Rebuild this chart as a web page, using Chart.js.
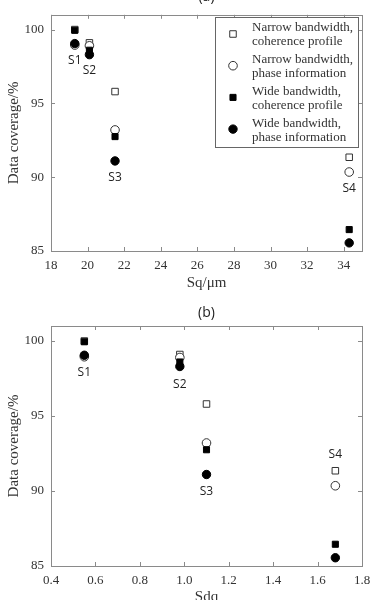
<!DOCTYPE html>
<html>
<head>
<meta charset="utf-8">
<script src="https://cdn.jsdelivr.net/npm/chart.js@4"></script>
<style>
  html, body { margin: 0; padding: 0; background: #fff; }
  body { width: 390px; height: 600px; position: relative; overflow: hidden; }
  .box { position: absolute; left: 0; width: 390px; height: 300px; }
</style>
</head>
<body>
<div class="box" style="top:0"><canvas id="chart-a"></canvas></div>
<div class="box" style="top:300px"><canvas id="chart-b"></canvas></div>
<script>
// ─── DADOS ───────────────────────────────────────────────
const samples = ['S1', 'S2', 'S3', 'S4'];
const sqValues = [19.3, 20.1, 21.5, 34.3];
const sdqValues = [0.55, 0.98, 1.1, 1.68];

const narrowCoherence = [100.0, 99.1, 95.8, 91.35];
const narrowPhase = [98.95, 98.9, 93.2, 90.35];
const wideCoherence = [99.95, 98.6, 92.75, 86.45];
const widePhase = [99.05, 98.3, 91.1, 85.55];

const seriesNames = [
  ['Narrow bandwidth,', 'coherence profile'],
  ['Narrow bandwidth,', 'phase information'],
  ['Wide bandwidth,', 'coherence profile'],
  ['Wide bandwidth,', 'phase information']
];

// label positions (data units) for S1..S4
const labelYa = [97.9, 97.2, 90.0, 89.2];
const labelYb = [97.9, 97.1, 89.95, 92.45];

const yTicks = [85, 90, 95, 100];
const xTicksA = [18, 20, 22, 24, 26, 28, 30, 32, 34];
const xTicksB = [0.4, 0.6, 0.8, 1, 1.2, 1.4, 1.6, 1.8];

// ─── ESTILO ──────────────────────────────────────────────
const SERIF = '"Liberation Serif", "DejaVu Serif", serif';
const SANS = '"Open Sans", "Liberation Sans", sans-serif';
const FRAME = '#8a8a8a';

const markerStyles = [
  { pointStyle: 'rect', pointRadius: 4.6, backgroundColor: '#fff', borderColor: '#333', order: 4 },
  { pointStyle: 'circle', pointRadius: 4.3, backgroundColor: '#fff', borderColor: '#333', order: 3 },
  { pointStyle: 'rect', pointRadius: 4.3, backgroundColor: '#000', borderColor: '#000', order: 2 },
  { pointStyle: 'circle', pointRadius: 4.2, backgroundColor: '#000', borderColor: '#000', order: 1 }
];

function buildDatasets(xs) {
  return [narrowCoherence, narrowPhase, wideCoherence, widePhase].map((ys, i) => ({
    label: seriesNames[i].join(' '),
    data: xs.map((x, j) => ({ x, y: ys[j] })),
    pointBorderWidth: 1,
    pointHoverRadius: markerStyles[i].pointRadius,
    ...markerStyles[i]
  }));
}

// frame + inward ticks + texts
const decoPlugin = {
  id: 'deco',
  afterDraw(chart) {
    const o = chart.options.plugins.deco;
    const { ctx, chartArea: a, scales } = chart;
    ctx.save();
    ctx.strokeStyle = FRAME;
    ctx.lineWidth = 1;
    ctx.strokeRect(Math.round(a.left) + 0.5, Math.round(a.top) + 0.5,
      Math.round(a.right - a.left), Math.round(a.bottom - a.top));
    ctx.beginPath();
    scales.x.ticks.forEach(t => {
      const px = Math.round(scales.x.getPixelForValue(t.value)) + 0.5;
      ctx.moveTo(px, a.bottom); ctx.lineTo(px, a.bottom - 4);
      ctx.moveTo(px, a.top); ctx.lineTo(px, a.top + 4);
    });
    scales.y.ticks.forEach(t => {
      const py = Math.round(scales.y.getPixelForValue(t.value)) + 0.5;
      ctx.moveTo(a.left, py); ctx.lineTo(a.left + 4, py);
      ctx.moveTo(a.right, py); ctx.lineTo(a.right - 4, py);
    });
    ctx.stroke();

    // sample labels
    ctx.fillStyle = '#222';
    ctx.font = '12px ' + SANS;
    ctx.textAlign = 'center';
    ctx.textBaseline = 'middle';
    samples.forEach((s, i) => {
      ctx.fillText(s, scales.x.getPixelForValue(o.xs[i]), scales.y.getPixelForValue(o.labelY[i]));
    });

    // panel title
    ctx.font = '14px ' + SANS;
    ctx.fillStyle = '#222';
    ctx.fillText(o.title, (a.left + a.right) / 2, o.titleY);

    // axis titles
    ctx.font = '15px ' + SERIF;
    ctx.fillStyle = '#333';
    ctx.fillText(o.xTitle, (a.left + a.right) / 2, o.xTitleY);
    ctx.save();
    ctx.translate(14, (a.top + a.bottom) / 2);
    ctx.rotate(-Math.PI / 2);
    ctx.fillText('Data coverage/%', 0, 0);
    ctx.restore();

    // legend
    if (o.legend) {
      const L = o.legend;
      ctx.fillStyle = '#fff';
      ctx.fillRect(L.x, L.y, L.w, L.h);
      ctx.strokeStyle = '#666';
      ctx.strokeRect(L.x + 0.5, L.y + 0.5, L.w, L.h);
      chart.data.datasets.forEach((ds, i) => {
        const cy = L.y + 17 + i * 31.7;
        ctx.fillStyle = ds.backgroundColor;
        ctx.strokeStyle = ds.borderColor;
        Chart.helpers.drawPoint(ctx, {
          pointStyle: ds.pointStyle, radius: ds.pointRadius, borderWidth: 1, rotation: 0
        }, L.x + 18, cy);
        ctx.fillStyle = '#333';
        ctx.font = '13px ' + SERIF;
        ctx.textAlign = 'left';
        ctx.fillText(seriesNames[i][0], L.x + 37, cy - 6);
        ctx.fillText(seriesNames[i][1], L.x + 37, cy + 8);
      });
    }
    ctx.restore();
  }
};

function makeChart(id, xs, xMin, xMax, xTicks, pad, xFitH, deco) {
  return new Chart(document.getElementById(id), {
    type: 'scatter',
    data: { datasets: buildDatasets(xs) },
    options: {
      responsive: true,
      maintainAspectRatio: false,
      animation: false,
      layout: { padding: pad },
      plugins: { legend: { display: false }, tooltip: { enabled: false }, deco },
      scales: {
        x: {
          type: 'linear', min: xMin, max: xMax,
          grid: { display: false, drawTicks: false },
          border: { display: false },
          afterBuildTicks: s => { s.ticks = xTicks.map(v => ({ value: v })); },
          afterFit: s => { s.height = xFitH; },
          ticks: { color: '#333', padding: 7, font: { family: SERIF, size: 13 }, maxRotation: 0 }
        },
        y: {
          min: 85, max: 101,
          grid: { display: false, drawTicks: false },
          border: { display: false },
          afterBuildTicks: s => { s.ticks = yTicks.map(v => ({ value: v })); },
          afterFit: s => { s.width = 51; },
          ticks: { color: '#333', padding: 7, font: { family: SERIF, size: 13 } }
        }
      }
    },
    plugins: [decoPlugin]
  });
}

makeChart('chart-a', sqValues, 18, 35, xTicksA,
  { left: 0, right: 28, top: 13, bottom: 0 }, 49,
  { xs: sqValues, labelY: labelYa, title: '(a)', titleY: -3, xTitle: 'Sq/\u03bcm', xTitleY: 283,
    legend: { x: 215, y: 17, w: 143, h: 130 } });

makeChart('chart-b', sdqValues, 0.4, 1.8, xTicksB,
  { left: 0, right: 28, top: 26, bottom: 0 }, 34,
  { xs: sdqValues, labelY: labelYb, title: '(b)', titleY: 13, xTitle: 'Sdq', xTitleY: 297 });
</script>
</body>
</html>
